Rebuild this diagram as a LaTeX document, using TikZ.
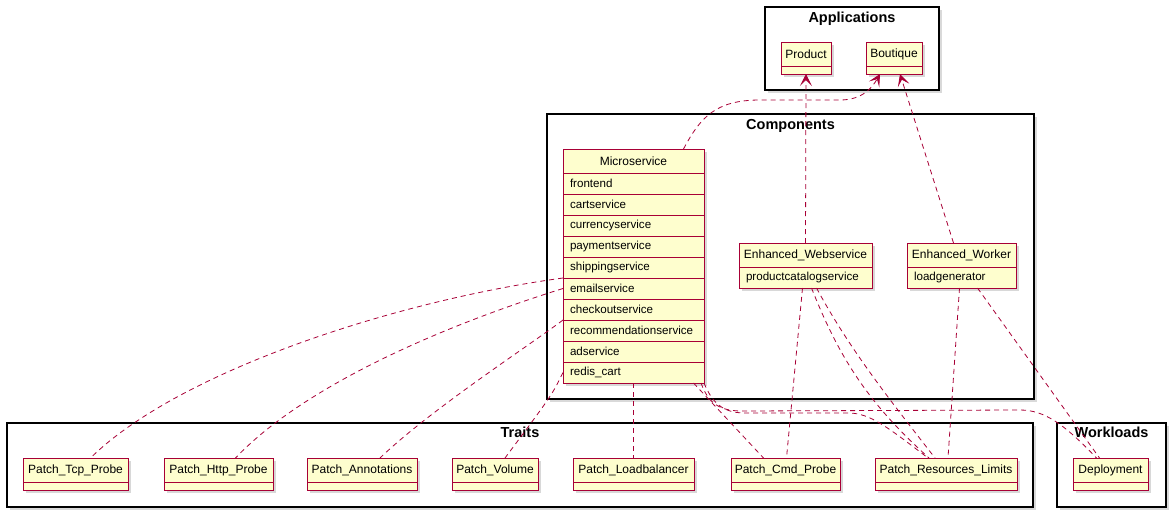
\documentclass[tikz,border=0pt]{standalone}
\usepackage{fontspec}
\setmainfont{Liberation Sans}
\usepackage{tikz}
\usetikzlibrary{positioning,shadows,arrows.meta}
\definecolor{umlred}{HTML}{A80036}
\definecolor{umlfill}{HTML}{FEFECE}
\hyphenpenalty=10000

\begin{document}
\begin{tikzpicture}[x=1pt,y=-1pt,
	font=\fontsize{11.6}{13}\selectfont,
	shade/.style={drop shadow={opacity=0.3,shadow xshift=3pt,shadow yshift=-3pt}},
	pkg/.style={draw=black,line width=1.4pt,fill=white,inner sep=0pt,outer sep=0pt,anchor=north west,shade},
	pkgtitle/.style={font=\fontsize{14.5}{16}\selectfont\bfseries,inner sep=0pt},
	cls/.style={draw=umlred,line width=0.9pt,fill=umlfill,inner sep=0pt,outer sep=0pt,minimum height=24pt,anchor=north west,shade,font=\fontsize{12}{14}\selectfont},
	cmp/.style={cls,minimum height=8pt},
	row/.style={cls,minimum height=21pt,inner xsep=7pt,align=left,font=\fontsize{11.6}{13}\selectfont},
	link/.style={draw=umlred,line width=0.8pt,dash pattern=on 5pt off 4pt},
	uses/.style={link,-{Stealth[length=12pt,width=12pt,inset=6pt,line width=0.8pt]}}
	]
	\useasboundingbox (0,0) rectangle (1176,517);

	% packages
	\node[pkg,minimum width=174pt,minimum height=83pt] (apps) at (765,7) {};
	\node[pkgtitle,below=5pt of apps.north] (apps-t) {Applications};
	\node[pkg,minimum width=487pt,minimum height=285pt] (comps) at (547,114) {};
	\node[pkgtitle,below=5pt of comps.north] (comps-t) {Components};
	\node[pkg,minimum width=1026pt,minimum height=84pt] (traits) at (7,423) {};
	\node[pkgtitle,below=4pt of traits.north] (traits-t) {Traits};
	\node[pkg,minimum width=109pt,minimum height=84pt] (works) at (1057,423) {};
	\node[pkgtitle,below=4pt of works.north] (works-t) {Workloads};

	% applications
	\node[cls,minimum width=50pt] (product) at (781,42) {Product};
	\node[cmp,minimum width=50pt,below=0pt of product] (product-c) {};
	\node[cls,minimum width=56pt] (boutique) at (866,42) {Boutique};
	\node[cmp,minimum width=56pt,below=0pt of boutique] (boutique-c) {};

	% components
	\node[cls,minimum width=141pt] (ms-h) at (563,149) {Microservice};
	\foreach \s [count=\i] in {frontend,cartservice,currencyservice,paymentservice,shippingservice,emailservice,checkoutservice,recommendationservice,adservice,redis\_cart}
		\node[row,text width=127pt,minimum width=141pt] (ms-\i) at (563,152+21*\i) {\s};
	\node[cls,minimum width=133pt] (ws-h) at (739,243) {Enhanced\_Webservice};
	\node[row,text width=119pt,minimum width=133pt,below=0pt of ws-h] (ws-r) {productcatalogservice};
	\node[cls,minimum width=109pt] (wk-h) at (907,243) {Enhanced\_Worker};
	\node[row,text width=95pt,minimum width=109pt,below=0pt of wk-h] (wk-r) {loadgenerator};

	% traits and workloads
	\foreach \n/\x/\w/\t in {tcp/23/105/Patch\_Tcp\_Probe,http/164/109/Patch\_Http\_Probe,annot/307/110/Patch\_Annotations,vol/452/86/Patch\_Volume,lb/573/121/Patch\_Loadbalancer,cmd/731/109/Patch\_Cmd\_Probe,reslim/875/142/Patch\_Resources\_Limits,dep/1073/75/Deployment}{
		\node[cls,minimum width=\w] (\n) at (\x,458) {\t};
		\node[cmp,minimum width=\w,below=0pt of \n] (\n-c) {};
	}

	% links
	\draw[uses] ([xshift=50pt]ms-h.north) .. controls (700,118) and (715,100) .. (760,100) -- (840,100) .. controls (862,100) and (872,88) .. ([xshift=-14pt]boutique-c.south);
	\draw[uses] (ws-h.north) -- (product-c.south);
	\draw[uses] ([xshift=-8pt]wk-h.north) -- ([xshift=6pt]boutique-c.south);

	\draw[link] (ms-5.south west) .. controls (400,300) and (180,370) .. ([xshift=15pt]tcp.north);
	\draw[link] (ms-6.west) .. controls (430,330) and (300,390) .. ([xshift=17pt]http.north);
	\draw[link] (ms-8.north west) .. controls (530,345) and (430,410) .. ([xshift=18pt]annot.north);
	\draw[link] (ms-10.west) .. controls (552,395) .. ([xshift=10pt]vol.north);
	\draw[link] (ms-10.south) -- (lb.north);
	\draw[link] ([xshift=60pt]ms-10.south) -- ([xshift=-22pt]cmd.north);
	\draw[link] (ms-10.south east) .. controls (712,402) and (722,413) .. (745,413) -- (850,413) .. controls (870,414) and (885,425) .. ([xshift=-18pt]reslim.north);
	\draw[link] ([xshift=-3pt]ms-10.south east) .. controls (708,402) and (718,411) .. (742,411) -- (1020,410) .. controls (1045,410) and (1065,425) .. ([xshift=-14pt]dep.north);

	\draw[link] ([xshift=-3pt]ws-r.south) -- ([xshift=1pt]cmd.north);
	\draw[link] ([xshift=6pt]ws-r.south) .. controls (840,360) and (870,405) .. ([xshift=-17pt]reslim.north);
	\draw[link] ([xshift=11pt]ws-r.south) .. controls (850,350) and (890,400) .. ([xshift=-11pt]reslim.north);
	\draw[link] ([xshift=-2pt]wk-r.south) -- ([xshift=2pt]reslim.north);
	\draw[link] ([xshift=16pt]wk-r.south) -- ([xshift=-11pt]dep.north);
\end{tikzpicture}
\end{document}
